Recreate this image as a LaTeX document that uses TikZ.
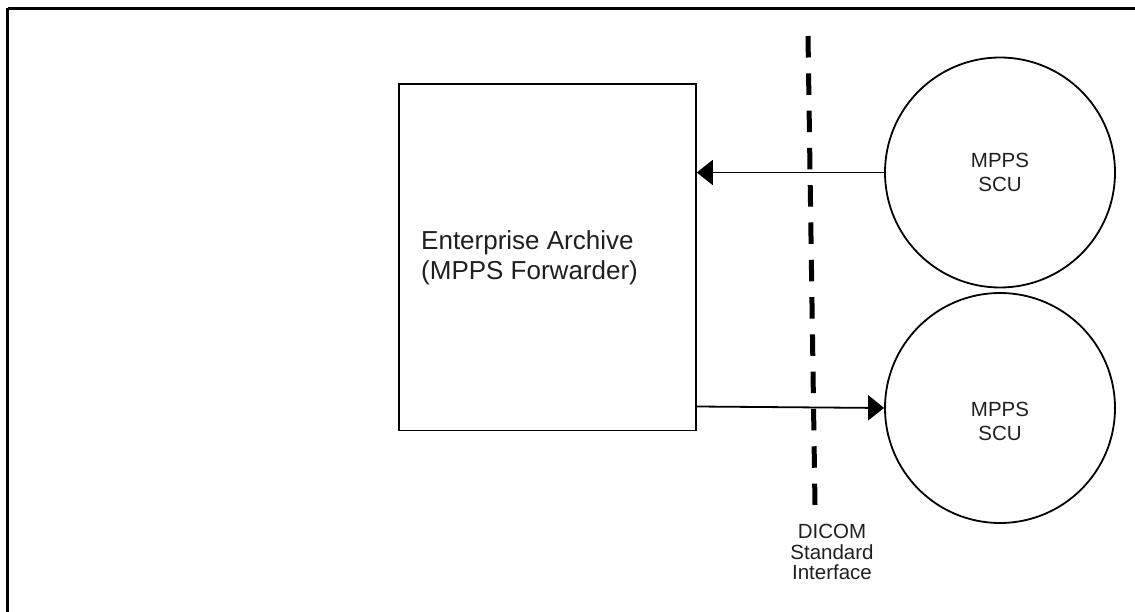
\documentclass[tikz,border=0pt]{standalone}
\usepackage{fontspec}
\setmainfont{Liberation Sans}
\usetikzlibrary{arrows.meta}
\begin{document}
\begin{tikzpicture}[x=1pt,y=-1pt,
  frame/.style={draw=black,line width=3pt},
  boxstyle/.style={draw=black,line width=1.8pt},
  circstyle/.style={draw=black,line width=1.8pt,circle,minimum size=230pt,inner sep=0pt},
  conn/.style={draw=black,line width=1.8pt,-{Triangle[length=16pt,width=25pt]}},
  dashline/.style={draw=black,line width=5pt,dash pattern=on 21.5pt off 15.8pt},
  lbl/.style={font=\fontsize{20.5}{24}\selectfont,align=center,text=black!88,inner sep=0pt}]
\useasboundingbox (0,0) rectangle (1135,612);
\draw[frame] (7.5,8.5) -- (1140,8.5);
\draw[frame] (7.5,8.5) -- (7.5,620);
\node[boxstyle,minimum width=297pt,minimum height=346pt,anchor=north west,inner sep=0pt] (ea) at (398,83.5) {};
\node[anchor=west,align=left,inner sep=0pt,font=\fontsize{26}{30}\selectfont,text=black!88] (eat) at (421,258) {Enterprise Archive\\(MPPS Forwarder)};
\node[circstyle] (c1) at (1000,172.5) {};
\node[lbl] (c1t) at (1000,172.5) {MPPS\\SCU};
\node[circstyle] (c2) at (1000,408) {};
\node[lbl] (c2t) at (1000,421) {MPPS\\SCU};
\coordinate (dtop) at (808,36);
\coordinate (dbot) at (815,505);
\draw[dashline] (dtop) -- (dbot);
\node[lbl,anchor=north,font=\fontsize{20.5}{20.5}\selectfont] (dl) at (832,524) {DICOM\\Standard\\Interface};
\draw[conn] (c1.west) -- (ea.east |- c1.west);
\draw[conn] (ea.east |- 0,406.5) -- (c2.west);
\end{tikzpicture}
\end{document}
